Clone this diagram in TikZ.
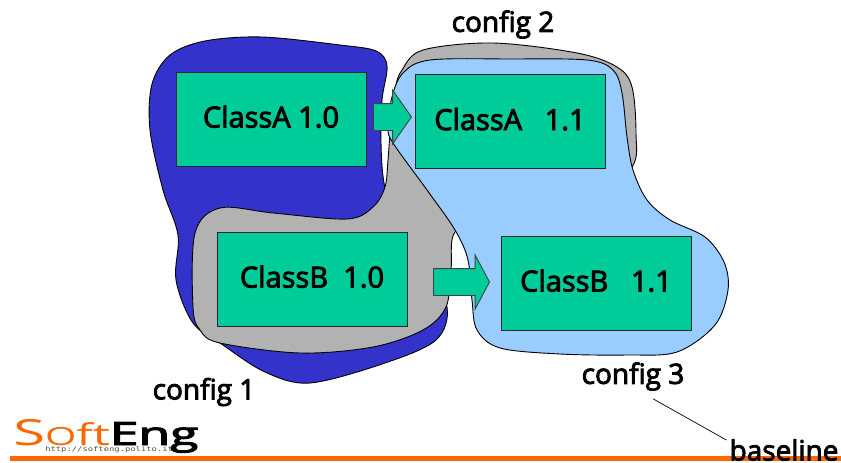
\documentclass[tikz,border=0pt]{standalone}
\usepackage{fontspec}
\setmainfont{Open Sans}
\setmonofont{DejaVu Sans Mono}
\newfontfamily\labelfont[FakeBold=3]{Open Sans}
\usepackage{xcolor}
\usetikzlibrary{shapes.arrows}
\definecolor{configblue}{HTML}{3333CC}
\definecolor{configgrey}{HTML}{B2B2B2}
\definecolor{configsky}{HTML}{99CCFF}
\definecolor{classgreen}{HTML}{00CC99}
\definecolor{softorange}{HTML}{FF6600}
\tikzset{
  blob/.style={draw=black, line width=0.9pt, smooth cycle, tension=0.55},
  classbox/.style={draw=black!85, fill=classgreen, line width=0.9pt, minimum width=190pt, minimum height=94pt, inner sep=0pt, text depth=5pt, font=\labelfont\fontsize{29}{30}\selectfont},
  steparrow/.style={shape=single arrow, anchor=tip, draw=black!75, fill=classgreen, line width=0.9pt, inner sep=0pt, inner ysep=13pt, single arrow head extend=13.5pt},
  configlabel/.style={inner sep=0pt, font=\labelfont\fontsize{28}{30}\selectfont},
}
\begin{document}
\begin{tikzpicture}[x=1pt,y=-1pt]
  \useasboundingbox (0,0) rectangle (841,463);

  % config 1
  \draw[blob, fill=configblue] plot coordinates {(152,84) (170,55) (205,41) (262,37) (340,45) (376,51) (387,66) (382,100) (381,143) (384,183) (395,222) (425,265) (447,307) (436,340) (385,363) (310,383) (265,372) (223,345) (193,323) (176,280) (178,235) (163,190) (150,130)};

  % config 2
  \draw[blob, fill=configgrey] plot coordinates {(195,233) (220,208) (273,213) (347,219) (373,207) (385,187) (388,160) (390,135) (395,90) (402,70) (423,50) (493,43) (577,53) (617,67) (632,87) (636,133) (632,167) (590,200) (490,222) (455,232) (451,270) (446,307) (423,330) (373,347) (300,353) (220,343) (200,330) (193,307)};

  % config 3
  \draw[blob, fill=configsky] plot coordinates {(403,73) (430,60) (510,59) (587,60) (613,70) (622,93) (627,137) (633,170) (647,200) (670,220) (705,237) (724,262) (728,290) (715,325) (677,352) (627,355) (560,354) (500,348) (477,330) (472,300) (468,260) (455,230) (427,190) (393,143) (388,127) (392,97)};

  % Classes
  \node[classbox] (classA10) at (271,119) {ClassA 1.0};
  \node[classbox] (classA11) at (510,121.5) {ClassA\ \ \ 1.1\hspace{6pt}};
  \node[classbox] (classB10) at (312,279) {ClassB\ \ 1.0};
  \node[classbox] (classB11) at (596,283) {ClassB\ \ \ 1.1\hspace{5pt}};

  % Arrows
  \node[steparrow, minimum height=38pt, single arrow tip angle=110] (arrowA) at (412,117) {};
  \node[steparrow, minimum height=56pt, single arrow tip angle=124] (arrowB) at (490,282) {};

  % Labels
  \node[configlabel] (config2) at (503,24.5) {config 2};
  \node[configlabel] (config1) at (204,392) {config 1};
  \node[configlabel] (config3) at (633,376.5) {config 3};

  % Footer
  \fill[softorange] (10,456) rectangle (841,461);
  \node[configlabel] (baseline) at (784,450) {baseline};
  \draw[line width=0.7pt] ([xshift=20pt,yshift=-8pt]config3.south) -- ([xshift=-3pt,yshift=-1pt]baseline.north west);

  % Logo
  \node[inner sep=0pt, anchor=base west, xscale=1.61] (logo) at (13,445) {\textcolor{softorange}{\fontsize{36}{30}\selectfont S\fontsize{25}{30}\selectfont O\fontsize{30}{30}\selectfont ft}\labelfont\fontsize{32}{30}\selectfont E\fontsize{32}{30}\selectfont ng};
  \node[inner sep=0pt, anchor=base west, xscale=1.36, font=\ttfamily\fontsize{6.5}{7}\selectfont, text=black!70] (url) at (45,451) {http://softeng.polito.it};
\end{tikzpicture}
\end{document}
